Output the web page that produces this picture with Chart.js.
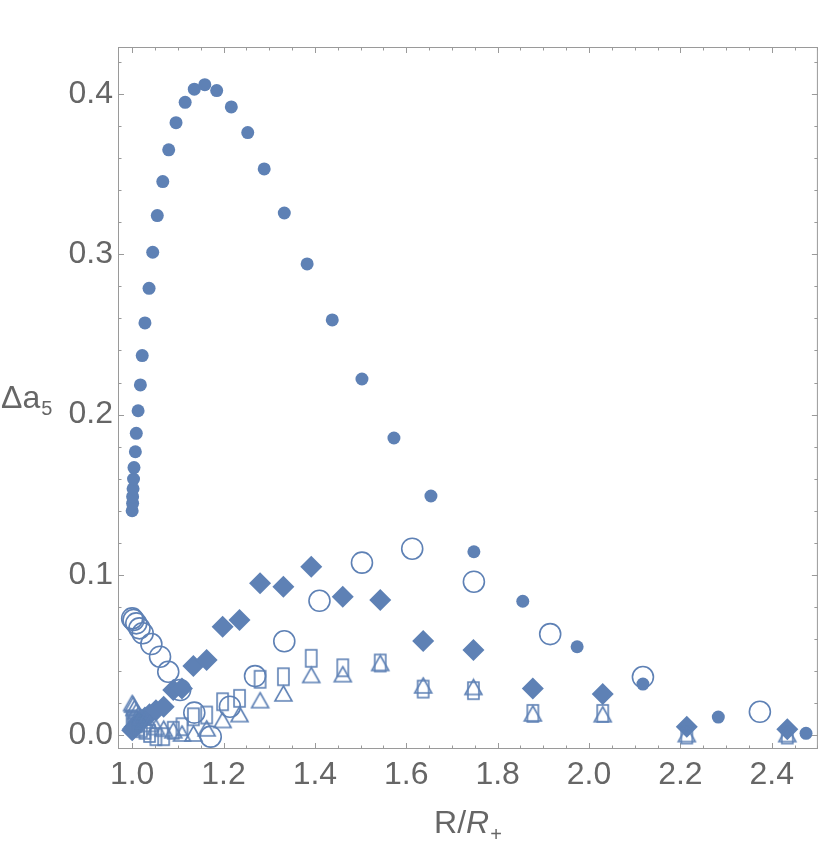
<!DOCTYPE html>
<html>
<head>
<meta charset="utf-8">
<script src="https://cdn.jsdelivr.net/npm/chart.js@4/dist/chart.umd.min.js"></script>
<style>
    body { margin: 0; background: #ffffff; }
    #wrap { width: 830px; height: 842px; }
</style>
</head>
<body>
<div id="wrap"><canvas id="chart" width="830" height="842"></canvas></div>
<script>
// data

// filled circles
var filledX = [1.000, 1.001, 1.001, 1.002, 1.003, 1.004, 1.007, 1.009, 1.013, 1.018, 1.022, 1.028, 1.037,
    1.045, 1.055, 1.067, 1.080, 1.096, 1.116, 1.136, 1.159, 1.185, 1.217, 1.253, 1.289, 1.333, 1.383,
    1.438, 1.503, 1.573, 1.654, 1.748, 1.855, 1.974, 2.118, 2.283, 2.475];
var filledY = [0.140, 0.1446, 0.1488, 0.1537, 0.1598, 0.1669, 0.1768, 0.1883, 0.2024, 0.2185, 0.2368, 0.2572, 0.2788,
    0.3013, 0.3242, 0.3454, 0.3652, 0.3822, 0.3949, 0.4031, 0.4059, 0.4022, 0.392, 0.376, 0.3533, 0.3258, 0.294,
    0.2591, 0.2222, 0.1854, 0.1492, 0.1144, 0.0835, 0.0551, 0.0318, 0.0112, 0.0011];

// open circles
var openX = [1.000, 1.003, 1.009, 1.016, 1.023, 1.042, 1.061, 1.079, 1.105, 1.136, 1.172,
    1.214, 1.269, 1.333, 1.410, 1.503, 1.613, 1.748, 1.915, 2.118, 2.374];
var openY = [0.0728, 0.0718, 0.0697, 0.0666, 0.0635, 0.0568, 0.0489, 0.0395, 0.0281, 0.0140, -0.001,
    0.0177, 0.0368, 0.0585, 0.0838, 0.1076, 0.1163, 0.0957, 0.063, 0.0362, 0.0145];

// diamonds, squares and triangles share the same R values
var sharedX = [1.000, 1.002, 1.005, 1.009, 1.014, 1.020, 1.028, 1.038, 1.052, 1.069, 1.090, 1.109, 1.134,
    1.163, 1.198, 1.235, 1.280, 1.331, 1.392, 1.461, 1.543, 1.637, 1.747, 1.877, 2.030, 2.214, 2.434];
var diamondY = [0.003, 0.004, 0.005, 0.006, 0.008, 0.009, 0.011, 0.013, 0.0155, 0.0177, 0.0281, 0.0291, 0.0431,
    0.0468, 0.0676, 0.0718, 0.0947, 0.0926, 0.105, 0.0863, 0.0843, 0.0587, 0.0531, 0.0291, 0.0256, 0.0052, 0.0036];
var squareY = [0.010, 0.009, 0.008, 0.007, 0.005, 0.004, 0.003, 0.001, -0.001, -0.001, 0.003, 0.0052, 0.0114,
    0.0125, 0.0208, 0.0229, 0.0348, 0.0364, 0.0479, 0.042, 0.045, 0.0287, 0.0277, 0.0135, 0.0135, 0.000, 0.000];
var triangleY = [0.020, 0.019, 0.017, 0.015, 0.013, 0.011, 0.009, 0.007, 0.005, 0.004, 0.003, 0.001, 0.001,
    0.0042, 0.0094, 0.0131, 0.0218, 0.026, 0.0375, 0.038, 0.045, 0.031, 0.030, 0.0135, 0.013, 0.0006, 0.0006];

// axis ticks
var xMajorTicks = [1.0, 1.2, 1.4, 1.6, 1.8, 2.0, 2.2, 2.4];
var xMinorStep = 0.05;
var yMajorTicks = [0.0, 0.1, 0.2, 0.3, 0.4];
var yMinorStep = 0.02;

var markerColor = '#5e81b5';
var frameColor = '#9a9a9a';
var textColor = '#666666';
var fontFamily = "'Liberation Sans', Arial, sans-serif";

function toPoints(xs, ys) {
    let pts = [];
    for (let i = 0; i < xs.length; i++) {
        pts.push({ x: xs[i], y: ys[i] });
    }
    return pts;
}

// open rectangle marker, taller than wide like the glyph in the picture
function makeRectMarker(w, h) {
    let c = document.createElement('canvas');
    c.width = w + 4;
    c.height = h + 4;
    let g = c.getContext('2d');
    g.strokeStyle = markerColor;
    g.lineWidth = 1.6;
    g.strokeRect(2, 2, w, h);
    return c;
}

function makeTriangleMarker(w, h) {
    let c = document.createElement('canvas');
    c.width = w + 4;
    c.height = h + 4;
    let g = c.getContext('2d');
    g.strokeStyle = markerColor;
    g.lineWidth = 1.6;
    g.lineJoin = 'miter';
    g.beginPath();
    g.moveTo(2 + w / 2, 2);
    g.lineTo(2 + w, 2 + h);
    g.lineTo(2, 2 + h);
    g.closePath();
    g.stroke();
    return c;
}

function minorValues(min, max, step) {
    let vals = [];
    let start = Math.ceil(min / step - 1e-9);
    for (let k = start; k * step <= max + 1e-9; k++) {
        vals.push(Math.round(k * step * 1000) / 1000);
    }
    return vals;
}

// frame with inward ticks on all four sides
var framePlugin = {
    id: 'frame',
    beforeDatasetsDraw: function (chart) {
        let ctx = chart.ctx;
        let a = chart.chartArea;
        let xs = chart.scales.x;
        let ys = chart.scales.y;
        ctx.save();
        ctx.strokeStyle = frameColor;
        ctx.lineWidth = 1;
        ctx.strokeRect(a.left + 0.5, a.top + 0.5, a.right - a.left - 1, a.bottom - a.top - 1);

        ctx.beginPath();
        minorValues(xs.min, xs.max, xMinorStep).forEach(function (v) {
            let len = xMajorTicks.some(m => Math.abs(m - v) < 1e-6) ? 6 : 3.5;
            let px = Math.round(xs.getPixelForValue(v)) + 0.5;
            ctx.moveTo(px, a.bottom);
            ctx.lineTo(px, a.bottom - len);
            ctx.moveTo(px, a.top);
            ctx.lineTo(px, a.top + len);
        });
        minorValues(ys.min, ys.max, yMinorStep).forEach(function (v) {
            let len = yMajorTicks.some(m => Math.abs(m - v) < 1e-6) ? 6 : 3.5;
            let py = Math.round(ys.getPixelForValue(v)) + 0.5;
            ctx.moveTo(a.left, py);
            ctx.lineTo(a.left + len, py);
            ctx.moveTo(a.right, py);
            ctx.lineTo(a.right - len, py);
        });
        ctx.stroke();
        ctx.restore();
    },
    afterDraw: function (chart) {
        let ctx = chart.ctx;
        ctx.save();
        ctx.fillStyle = textColor;
        ctx.textBaseline = 'alphabetic';

        // y axis title: Δa5, horizontal
        ctx.font = '32px ' + fontFamily;
        ctx.textAlign = 'left';
        ctx.fillText('Δa', 1, 408);
        let w1 = ctx.measureText('Δa').width;
        ctx.font = '20px ' + fontFamily;
        ctx.fillText('5', 1 + w1 + 1, 415);

        // x axis title: R/R+
        let cx = (chart.chartArea.left + chart.chartArea.right) / 2;
        ctx.font = '32px ' + fontFamily;
        let wa = ctx.measureText('R/').width;
        ctx.font = 'italic 32px ' + fontFamily;
        let wb = ctx.measureText('R').width;
        ctx.font = '20px ' + fontFamily;
        let wc = ctx.measureText('+').width;
        let x0 = cx - (wa + wb + wc + 1) / 2;
        ctx.font = '32px ' + fontFamily;
        ctx.fillText('R/', x0, 833);
        ctx.font = 'italic 32px ' + fontFamily;
        ctx.fillText('R', x0 + wa, 833);
        ctx.font = '20px ' + fontFamily;
        ctx.fillText('+', x0 + wa + wb + 1, 841);
        ctx.restore();
    }
};

var rectMarker = makeRectMarker(11, 17);
var triMarker = makeTriangleMarker(17, 15);

var ctx = document.getElementById('chart').getContext('2d');

// first dataset is drawn on top
var chart = new Chart(ctx, {
    type: 'scatter',
    data: {
        datasets: [{
            label: 'filled',
            data: toPoints(filledX, filledY),
            pointStyle: 'circle',
            pointRadius: 6.5,
            backgroundColor: markerColor,
            borderWidth: 0
        }, {
            label: 'open',
            data: toPoints(openX, openY),
            pointStyle: 'circle',
            pointRadius: 10.5,
            backgroundColor: 'rgba(0,0,0,0)',
            borderColor: markerColor,
            borderWidth: 1.6
        }, {
            label: 'triangle',
            data: toPoints(sharedX, triangleY),
            pointStyle: triMarker
        }, {
            label: 'square',
            data: toPoints(sharedX, squareY),
            pointStyle: rectMarker
        }, {
            label: 'diamond',
            data: toPoints(sharedX, diamondY),
            pointStyle: 'rectRot',
            pointRadius: 11,
            backgroundColor: markerColor,
            borderWidth: 0
        }]
    },
    options: {
        responsive: false,
        animation: false,
        events: [],
        layout: {
            padding: { top: 47, right: 12, left: 0, bottom: 0 }
        },
        scales: {
            x: {
                type: 'linear',
                min: 0.969,
                max: 2.501,
                grid: { display: false, drawTicks: false },
                border: { display: false },
                afterBuildTicks: function (scale) {
                    scale.ticks = xMajorTicks.map(v => ({ value: v }));
                },
                afterFit: function (scale) {
                    scale.height = 93;
                },
                ticks: {
                    autoSkip: false,
                    maxRotation: 0,
                    padding: 7,
                    color: textColor,
                    font: { family: fontFamily, size: 32 },
                    callback: function (v) { return v.toFixed(1); }
                }
            },
            y: {
                type: 'linear',
                min: -0.0087,
                max: 0.4294,
                grid: { display: false, drawTicks: false },
                border: { display: false },
                afterBuildTicks: function (scale) {
                    scale.ticks = yMajorTicks.map(v => ({ value: v }));
                },
                afterFit: function (scale) {
                    scale.width = 118;
                },
                ticks: {
                    autoSkip: false,
                    padding: 5,
                    color: textColor,
                    font: { family: fontFamily, size: 32 },
                    callback: function (v) { return v.toFixed(1); }
                }
            }
        },
        plugins: {
            legend: { display: false },
            tooltip: { enabled: false },
            title: { display: false }
        }
    },
    plugins: [framePlugin]
});
</script>
</body>
</html>
